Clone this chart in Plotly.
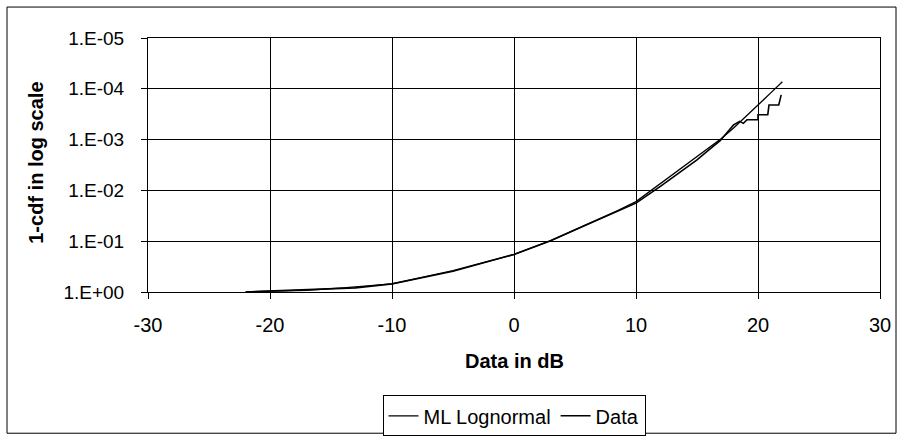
import plotly.graph_objects as go

# ---- data ----
ml_x = [-22, -20, -17, -14, -10, -5, 0, 3, 6, 8.5, 10, 12, 14, 16, 17, 18, 19, 20, 21, 22]
ml_y = [0.995, 0.964, 0.923, 0.832, 0.692, 0.380, 0.182, 0.0977, 0.0468, 0.0251,
        0.0166, 0.00741, 0.00324, 0.00145, 0.000955, 0.000589, 0.000355, 0.000209,
        0.000123, 0.0000724]

data_x = [-22, -20, -16.6, -13, -10, -5, 0, 3, 6, 8.5, 10, 12, 14, 15, 16, 16.9,
          17.5, 18.0, 18.5, 18.8, 19.1, 19.6, 20.0, 20.0, 20.8, 20.9, 21.7, 21.9]
data_y = [0.998, 0.964, 0.912, 0.83, 0.692, 0.389, 0.182, 0.0977, 0.0468, 0.0251,
          0.0178, 0.00832, 0.0038, 0.00251, 0.00158, 0.00105,
          0.000708, 0.000513, 0.000437, 0.000479, 0.000407, 0.000407, 0.000407,
          0.000324, 0.000324, 0.000209, 0.000209, 0.000132]

y_tickvals = [1, 0.1, 0.01, 0.001, 0.0001, 0.00001]
y_ticktext = ["1.E+00", "1.E-01", "1.E-02", "1.E-03", "1.E-04", "1.E-05"]
x_tickvals = [-30, -20, -10, 0, 10, 20, 30]
x_ticktext = ["-30", "-20", "-10", "0", "10", "20", "30"]

FONT = "Liberation Sans, Arial, sans-serif"

# plot area in pixels
W, H = 898, 437
L, R, T, B = 148, 880, 38, 292.5
pw, ph = R - L, B - T


def px_x(p):
    return (p - L) / pw


def px_y(p):
    return (B - p) / ph


fig = go.Figure()
fig.add_trace(go.Scatter(x=ml_x, y=ml_y, mode="lines", name="ML Lognormal",
                         line=dict(color="black", width=1.3)))
fig.add_trace(go.Scatter(x=data_x, y=data_y, mode="lines", name="Data",
                         line=dict(color="black", width=1.6)))

fig.update_layout(
    width=W, height=H, autosize=False,
    margin=dict(l=L, r=W - R, t=T, b=H - B, autoexpand=False),
    paper_bgcolor="white", plot_bgcolor="white",
    font=dict(family=FONT, size=19, color="black"),
    showlegend=True,
    legend=dict(orientation="h", x=0.5, xanchor="center", y=px_y(396), yanchor="top",
                bordercolor="black", borderwidth=1, bgcolor="white",
                font=dict(family=FONT, size=20, color="black"),
                itemwidth=30, tracegroupgap=0),
    xaxis=dict(range=[-30, 30], tickvals=x_tickvals, ticktext=x_ticktext,
               ticks="outside", ticklen=6,
               tickcolor="black", showgrid=True, gridcolor="black", gridwidth=1,
               zeroline=False, showline=True, linecolor="black", linewidth=1,
               mirror=True, ticklabelstandoff=9,
               tickfont=dict(family=FONT, size=20, color="black")),
    yaxis=dict(type="log", range=[0, -5], tickvals=y_tickvals, ticktext=y_ticktext,
               ticks="outside", ticklen=6, tickcolor="black", showgrid=True,
               gridcolor="black", gridwidth=1, zeroline=False, showline=True,
               linecolor="black", linewidth=1, mirror=True, ticklabelstandoff=13,
               tickfont=dict(family=FONT, size=19, color="black")),
    annotations=[
        dict(text="<b>Data in dB</b>", xref="paper", yref="paper",
             x=0.5, y=px_y(362), xanchor="center", yanchor="middle",
             showarrow=False, font=dict(family=FONT, size=20, color="black")),
        dict(text="<b>1-cdf in log scale</b>", xref="paper", yref="paper",
             x=px_x(36), y=px_y(163), xanchor="center", yanchor="middle",
             textangle=-90, showarrow=False,
             font=dict(family=FONT, size=20, color="black")),
    ],
    shapes=[
        dict(type="rect", xref="paper", yref="paper",
             x0=px_x(7), x1=px_x(896), y0=px_y(434), y1=px_y(7),
             line=dict(color="black", width=1), layer="below"),
    ],
)

fig.write_html("out.html", config={"displayModeBar": False},
               post_script="document.body.style.margin='0px';")
